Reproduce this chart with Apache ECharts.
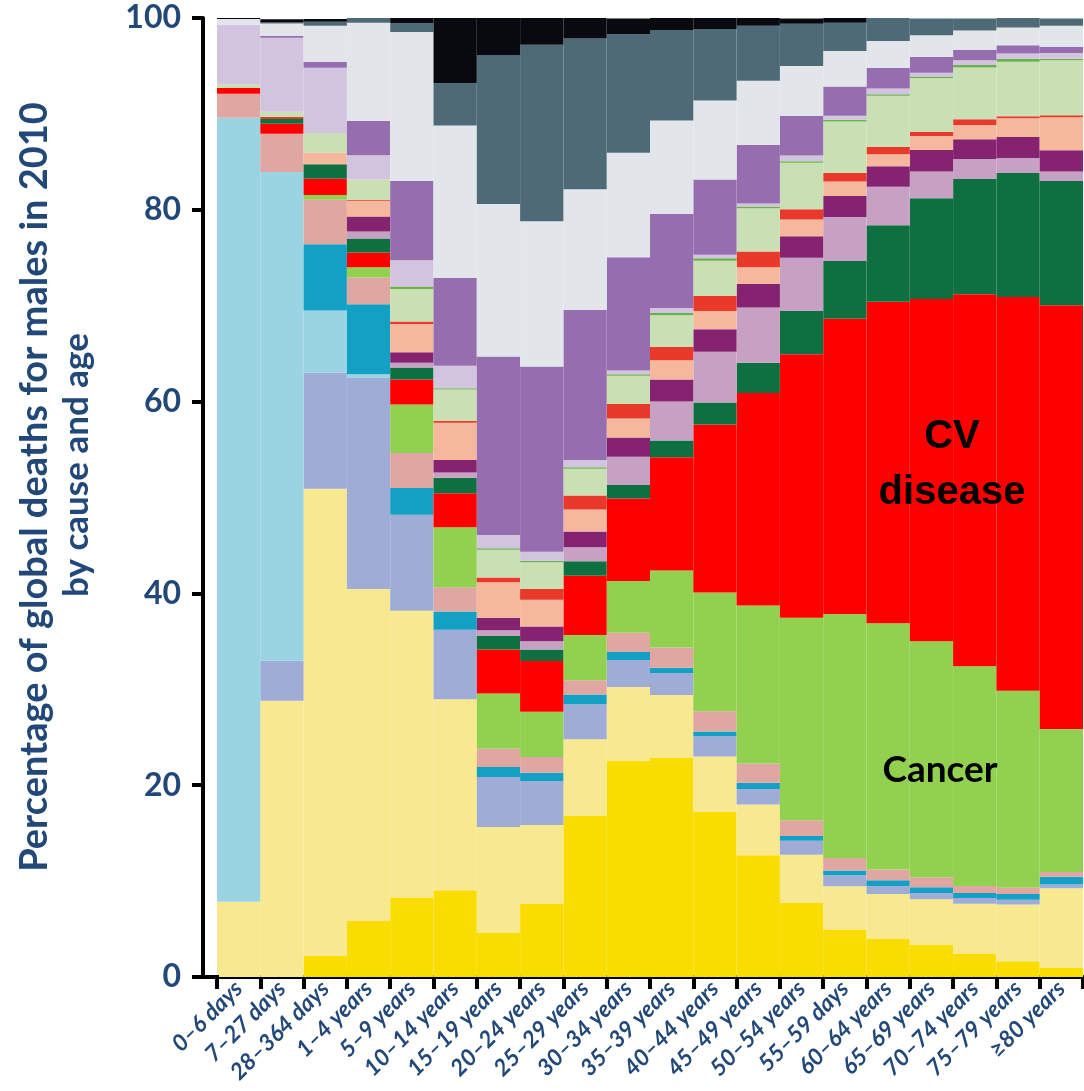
<!DOCTYPE html>
<html><head><meta charset="utf-8">
<script src="https://cdn.jsdelivr.net/npm/echarts@6/dist/echarts.min.js"></script>
<style>html,body{margin:0;padding:0;background:#fff}#c{width:1084px;height:1091px}</style>
</head><body><div id="c"></div>
<script>
const categories = ['0–6 days','7–27 days','28–364 days','1–4 years','5–9 years','10–14 years','15–19 years','20–24 years','25–29 years','30–34 years','35–39 years','40–44 years','45–49 years','50–54 years','55–59 days','60–64 years','65–69 years','70–74 years','75–79 years','≥80 years'];
const yTicks = [0,20,40,60,80,100];

// stacked bottom -> top
const hivTb      = [0,0,2.2,5.85,8.3,9.05,4.65,7.6,16.8,22.55,22.9,17.25,12.7,7.75,4.95,3.95,3.35,2.45,1.65,0.95];
const diarrhoea  = [7.85,28.8,48.7,34.6,29.9,19.9,11.0,8.25,8.0,7.7,6.5,5.75,5.3,5.0,4.5,4.7,4.75,5.2,5.9,8.3];
const malariaNtd = [0,4.17,12.1,22.05,10.0,7.25,5.2,4.6,3.65,2.8,2.3,2.1,1.6,1.45,1.15,0.85,0.65,0.6,0.5,0.4];
const neonatal   = [81.75,50.96,6.5,0.35,0,0,0,0,0,0,0,0,0,0,0,0,0,0,0,0];
const nutrition  = [0,0,6.9,7.3,2.8,1.9,1.05,0.85,1.0,0.85,0.55,0.5,0.65,0.5,0.5,0.6,0.6,0.5,0.6,0.8];
const otherComm  = [2.5,4.0,4.65,2.8,3.65,2.55,1.9,1.65,1.5,2.0,2.1,2.1,2.0,1.65,1.3,1.1,1.05,0.75,0.65,0.5];
const cancer     = [0,0,0.5,1.05,5.05,6.25,5.75,4.7,4.7,5.4,8.05,12.4,16.5,21.1,25.45,25.7,24.6,22.9,20.55,14.9];
const cvDisease  = [0.6,1.05,1.7,1.55,2.6,3.55,4.6,5.3,6.2,8.6,11.8,17.5,22.15,27.5,30.8,33.5,35.7,38.8,41.05,44.2];
const chronResp  = [0,0.5,1.5,1.45,1.25,1.6,1.4,1.2,1.5,1.4,1.75,2.3,3.15,4.5,6.0,8.0,10.5,12.0,12.95,12.95];
const cirrhosis  = [0,0,0,0.75,0.5,0.55,0.6,0.85,1.45,2.95,4.05,5.3,5.75,5.55,4.6,4.0,2.8,2.1,1.55,1.0];
const digestive  = [0,0,0,1.55,1.1,1.3,1.3,1.55,1.65,2.0,2.3,2.35,2.5,2.25,2.2,2.15,2.25,2.05,2.2,2.2];
const neuro      = [0,0,1.2,1.65,2.95,3.9,3.7,2.8,2.3,2.0,2.0,1.9,1.7,1.75,1.5,1.25,1.45,1.5,1.95,3.45];
const mental     = [0,0.2,0,0.1,0.25,0.2,0.5,1.1,1.45,1.5,1.4,1.6,1.65,1.05,0.9,0.75,0.4,0.6,0.2,0.2];
const diabetes   = [0.4,0.55,2.05,2.1,3.4,3.25,2.9,2.8,2.8,2.95,3.3,3.65,4.5,4.85,5.35,5.35,5.65,5.4,5.7,5.75];
const musculo    = [0,0,0,0,0.25,0.15,0.15,0.15,0.15,0.15,0.25,0.25,0.2,0.15,0.2,0.15,0.15,0.25,0.3,0.15];
const otherNcd   = [6.2,7.7,6.8,2.55,2.75,2.35,1.4,0.95,0.75,0.4,0.5,0.35,0.3,0.6,0.4,0.6,0.4,0.5,0.55,0.6];
const transport  = [0,0.2,0.6,3.55,8.25,9.15,18.6,19.3,15.65,11.8,9.8,7.85,6.1,4.15,3.05,2.15,1.65,1.1,0.85,0.65];
const unintent   = [0.6,1.3,3.8,10.25,15.55,15.9,15.9,15.15,12.6,10.9,9.75,8.25,6.7,5.2,3.7,2.8,2.25,2.0,1.85,2.2];
const selfHarm   = [0,0.1,0.4,0.5,0.9,4.4,15.55,18.4,15.7,12.35,9.45,7.45,5.75,4.4,2.95,2.4,1.75,1.25,1.1,0.75];
const natureWar  = [0.2,0.35,0.3,0.5,0.6,6.8,3.9,2.8,2.2,1.65,1.25,1.15,0.9,0.55,0.55,0,0,0,0,0];

const layers = [
  ['HIV/AIDS & tuberculosis', hivTb, '#F9DC00'],
  ['Diarrhoea, LRI & other infections', diarrhoea, '#F8E88F'],
  ['Malaria & NTDs', malariaNtd, '#9FACD5'],
  ['Neonatal disorders', neonatal, '#9AD4E3'],
  ['Nutritional deficiencies', nutrition, '#12A0C4'],
  ['Other communicable', otherComm, '#E0A6A2'],
  ['Cancer', cancer, '#92D050'],
  ['CV disease', cvDisease, '#FF0000'],
  ['Chronic respiratory', chronResp, '#0E7040'],
  ['Cirrhosis', cirrhosis, '#C6A1C4'],
  ['Digestive diseases', digestive, '#862370'],
  ['Neurological disorders', neuro, '#F6B89C'],
  ['Mental & behavioural', mental, '#E8392B'],
  ['Diabetes, urogenital, blood & endocrine', diabetes, '#C9E0B4'],
  ['Musculoskeletal', musculo, '#6AB04C'],
  ['Other non-communicable', otherNcd, '#D2C4DE'],
  ['Transport injuries', transport, '#966EB0'],
  ['Unintentional injuries', unintent, '#E2E6EA'],
  ['Self-harm & violence', selfHarm, '#4E6A77'],
  ['Forces of nature & war', natureWar, '#080A0F']
];

const blue = '#22487A';
const chart = echarts.init(document.getElementById('c'));
chart.setOption({
  animation: false,
  grid: {left: 217, right: 1, top: 18, bottom: 114, containLabel: false},
  xAxis: {
    type: 'category', data: categories,
    axisLine: {lineStyle: {color: '#000', width: 4}},
    axisTick: {show: true, alignWithLabel: false, length: 12, lineStyle: {color: '#000', width: 4}},
    axisLabel: {rotate: 45, interval: 0, margin: 8, color: blue, fontFamily: 'Lato', fontWeight: 'bold', fontStyle: 'italic', fontSize: 23}
  },
  yAxis: {
    type: 'value', min: 0, max: 100, interval: 20, offset: 14,
    axisLine: {show: true, lineStyle: {color: '#000', width: 4}},
    axisTick: {show: true, length: 11, lineStyle: {color: '#000', width: 4}},
    splitLine: {show: false},
    axisLabel: {margin: 22, color: blue, fontFamily: 'Lato', fontWeight: 'bold', fontSize: 32,
      formatter: v => yTicks.includes(v) ? String(v) : ''}
  },
  graphic: [
    {type: 'rect', shape: {x: 201, y: 975, width: 18, height: 4}, style: {fill: '#000'}, z: 100},
    {type: 'text', x: 35, y: 487, rotation: Math.PI/2, style: {text: 'Percentage of global deaths for males in 2010', font: 'bold 38px Lato', fill: blue, textAlign: 'center', textVerticalAlign: 'middle'}, z: 100},
    {type: 'text', x: 77, y: 465, rotation: Math.PI/2, style: {text: 'by cause and age', font: 'bold 35px Lato', fill: blue, textAlign: 'center', textVerticalAlign: 'middle'}, z: 100},
    {type: 'text', x: 952, y: 437, style: {text: 'CV', font: 'bold 40px "Liberation Sans"', fill: '#000', textAlign: 'center', textVerticalAlign: 'middle'}, z: 100},
    {type: 'text', x: 952, y: 493, style: {text: 'disease', font: 'bold 40px "Liberation Sans"', fill: '#000', textAlign: 'center', textVerticalAlign: 'middle'}, z: 100},
    {type: 'text', x: 940, y: 770, style: {text: 'Cancer', font: 'bold 37px Lato', fill: '#000', textAlign: 'center', textVerticalAlign: 'middle'}, z: 100}
  ],
  series: layers.map(([name, data, color]) => ({
    name, type: 'bar', stack: 'all', data,
    barWidth: '100%', barCategoryGap: '0%',
    itemStyle: {color},
    emphasis: {disabled: true}
  }))
});
</script></body></html>
